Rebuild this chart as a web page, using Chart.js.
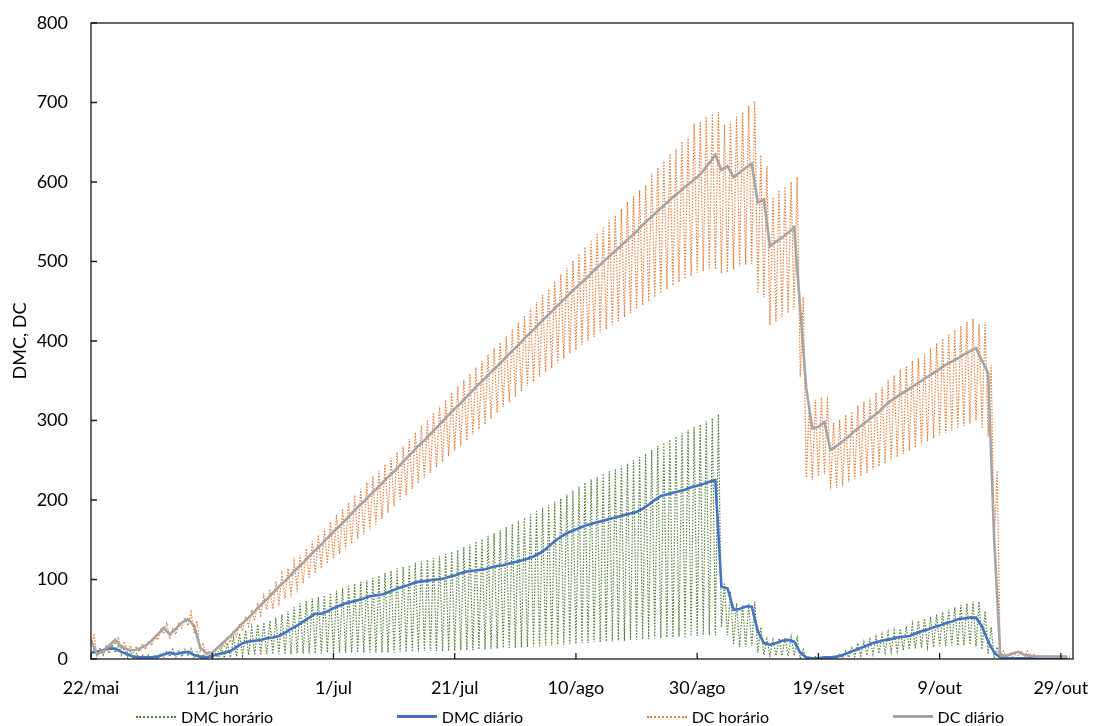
<!DOCTYPE html>
<html lang="pt">
<head>
    <meta charset="UTF-8">
    <title>DMC e DC</title>
    <style>
        body {
            margin: 0;
            background: #fff;
            font-family: Lato, 'Liberation Sans', sans-serif;
        }
        .wrap {
            position: relative;
            width: 1094px;
            height: 726px;
        }
        .legenda {
            position: absolute;
            left: 136px;
            width: 868px;
            top: 707px;
            display: flex;
            justify-content: space-between;
            font-size: 16px;
            color: #000;
        }
        .item {
            display: flex;
            align-items: center;
        }
        .amostra {
            width: 40px;
            margin-right: 5px;
        }
    </style>
</head>
<body>
<div class="wrap">
    <canvas id="grafico" width="1094" height="726"></canvas>
    <div class="legenda" id="legenda"></div>
</div>
<script src="https://cdn.jsdelivr.net/npm/chart.js"></script>
<script>
    // dia 0 = 22/mai, um valor por dia
    const rotulos = ['22/mai', '11/jun', '1/jul', '21/jul', '10/ago', '30/ago', '19/set', '9/out', '29/out'];

    const dmcDiario = [
        8, 9, 11, 13, 13, 9, 6, 3, 2, 2,
        2, 3, 6, 8, 6, 8, 9, 5, 3, 2,
        4, 6, 8, 10, 15, 20, 22, 23, 24, 26,
        27, 29, 33, 38, 42, 47, 52, 57, 57, 60,
        64, 67, 70, 72, 74, 76, 79, 80, 81, 84,
        87, 90, 92, 95, 97, 98, 99, 100, 101, 103,
        105, 108, 110, 111, 112, 113, 115, 117, 118, 120,
        122, 124, 126, 129, 133, 138, 145, 151, 156, 160,
        163, 166, 169, 171, 173, 175, 177, 179, 181, 183,
        185, 189, 194, 200, 205, 207, 209, 211, 213, 216,
        218, 220, 223, 225, 91, 89, 62, 63, 66, 66,
        35, 20, 18, 20, 23, 24, 22, 8, 2, 1,
        1, 2, 2, 3, 5, 8, 11, 14, 17, 20,
        22, 24, 25, 27, 28, 29, 32, 35, 37, 40,
        42, 45, 47, 50, 51, 52, 52, 41, 22, 8,
        2, 1, 1, 1, 1, 1, 1, 1, 1, 1, 1, 1
    ];

    const dmcHorMax = [
        12, 14, 16, 18, 18, 14, 10, 7, 5, 5,
        5, 7, 10, 12, 10, 12, 13, 9, 6, 4,
        8, 14, 20, 27, 32, 36, 40, 43, 46, 48,
        52, 56, 60, 65, 70, 73, 76, 78, 80, 83,
        86, 89, 92, 95, 97, 99, 102, 105, 108, 111,
        114, 116, 118, 121, 123, 125, 127, 130, 132, 135,
        137, 141, 144, 148, 151, 155, 158, 162, 166, 170,
        174, 178, 182, 186, 190, 194, 198, 202, 207, 212,
        217, 222, 226, 229, 233, 236, 239, 243, 246, 250,
        254, 258, 263, 268, 272, 276, 280, 284, 288, 292,
        295, 299, 303, 308, 96, 85, 70, 68, 70, 72,
        40, 25, 24, 26, 27, 28, 27, 12, 3, 3,
        3, 3, 3, 6, 10, 14, 20, 22, 25, 28,
        31, 34, 36, 38, 41, 44, 48, 51, 53, 56,
        59, 62, 65, 68, 70, 72, 72, 60, 40, 15,
        3, 2, 2, 2, 2, 2, 2, 2, 2, 2, 2, 2
    ];

    const dmcHorMin = [
        4, 4, 5, 7, 8, 5, 2, 0, 0, 0,
        0, 0, 2, 3, 2, 3, 4, 2, 0, 0,
        0, 0, 1, 2, 3, 4, 5, 5, 5, 6,
        6, 6, 6, 6, 7, 7, 7, 7, 7, 8,
        8, 8, 8, 8, 8, 8, 8, 8, 8, 8,
        8, 9, 9, 9, 9, 10, 10, 10, 10, 10,
        10, 11, 11, 11, 12, 12, 13, 13, 14, 14,
        14, 15, 15, 16, 16, 17, 17, 18, 18, 19,
        19, 20, 20, 21, 21, 22, 22, 23, 23, 24,
        24, 25, 25, 26, 26, 27, 27, 28, 28, 29,
        29, 30, 30, 30, 40, 30, 18, 15, 15, 16,
        8, 5, 4, 4, 4, 4, 4, 1, 0, 0,
        0, 0, 0, 0, 1, 2, 3, 4, 5, 6,
        7, 8, 9, 10, 11, 12, 13, 14, 15, 15,
        16, 16, 17, 17, 17, 18, 16, 12, 6, 2,
        0, 0, 0, 0, 0, 0, 0, 0, 0, 0, 0, 0
    ];

    const dcDiario = [
        24, 6, 10, 17, 24, 16, 12, 11, 13, 17,
        23, 31, 39, 31, 38, 46, 50, 42, 15, 7,
        8, 15, 22, 29, 37, 45, 52, 60, 68, 75,
        83, 91, 98, 106, 114, 121, 129, 137, 144, 152,
        160, 167, 175, 183, 191, 198, 206, 213, 221, 229,
        236, 244, 252, 260, 268, 275, 283, 291, 299, 307,
        315, 322, 330, 338, 346, 353, 361, 368, 376, 384,
        391, 399, 407, 414, 422, 430, 437, 445, 452, 460,
        467, 474, 481, 489, 496, 503, 510, 517, 524, 531,
        538, 546, 553, 560, 567, 574, 581, 587, 594, 600,
        606, 614, 624, 634, 615, 620, 606, 612, 618, 623,
        574, 578, 519, 525, 530, 536, 543, 440, 340, 290,
        292, 298, 263, 268, 274, 280, 287, 293, 299, 305,
        311, 319, 325, 330, 335, 340, 345, 350, 355, 360,
        365, 370, 374, 378, 383, 387, 391, 375, 360, 150,
        5, 4, 7, 9, 5, 4, 3, 3, 3, 3, 3, 3
    ];

    const dcHorMax = [
        30, 12, 15, 22, 28, 22, 17, 16, 19, 23,
        29, 37, 45, 38, 45, 52, 59, 48, 20, 10,
        12, 20, 28, 36, 45, 54, 62, 71, 80, 88,
        98, 107, 114, 123, 131, 139, 148, 156, 164, 172,
        181, 189, 197, 206, 214, 222, 230, 237, 245, 253,
        260, 268, 277, 285, 293, 301, 310, 318, 326, 335,
        343, 351, 359, 367, 375, 383, 391, 398, 406, 415,
        423, 432, 441, 449, 458, 467, 475, 484, 492, 501,
        510, 518, 527, 536, 544, 552, 558, 566, 575, 582,
        590, 596, 611, 618, 628, 636, 642, 651, 657, 674,
        676, 682, 686, 688, 672, 676, 682, 688, 696, 702,
        634, 620, 581, 590, 594, 600, 606, 455, 322, 326,
        330, 330, 297, 301, 307, 311, 319, 324, 328, 335,
        342, 351, 357, 364, 369, 375, 378, 383, 391, 397,
        403, 408, 414, 419, 424, 428, 421, 424, 370, 237,
        10, 5, 6, 9, 10, 6, 5, 4, 4, 4, 4, 4
    ];

    const dcHorMin = [
        18, 4, 6, 12, 18, 12, 9, 8, 9, 12,
        17, 24, 32, 25, 31, 39, 42, 32, 10, 5,
        4, 9, 15, 21, 28, 35, 41, 48, 55, 62,
        63, 70, 76, 82, 89, 95, 101, 108, 114, 120,
        126, 132, 138, 145, 151, 157, 163, 169, 176, 184,
        192, 199, 206, 214, 221, 228, 234, 241, 248, 255,
        262, 268, 275, 282, 289, 295, 302, 310, 317, 323,
        330, 337, 343, 349, 355, 361, 366, 372, 378, 384,
        389, 395, 400, 405, 410, 415, 420, 425, 430, 435,
        440, 445, 450, 455, 460, 465, 470, 474, 478, 482,
        486, 488, 490, 490, 485, 486, 490, 494, 496, 497,
        460, 455, 420, 425, 430, 435, 439, 355, 228, 225,
        230, 232, 213, 215, 218, 222, 226, 230, 234, 238,
        242, 246, 250, 254, 258, 262, 266, 270, 274, 278,
        281, 284, 287, 290, 293, 296, 300, 290, 280, 150,
        2, 2, 3, 4, 3, 2, 2, 2, 2, 2, 2, 2
    ];

    function serieDiaria(vals) {
        return vals.map((v, d) => ({ x: d, y: v }));
    }

    function serieHoraria(min, max) {
        const pts = [];
        min.forEach((v, d) => {
            pts.push({ x: d, y: v });
            pts.push({ x: d + 0.5, y: max[d] });
        });
        return pts;
    }

    // moldura do gráfico e marcas de escala para dentro
    const moldura = {
        id: 'moldura',
        afterDatasetsDraw(chart) {
            const { ctx, chartArea: a, scales: { x, y } } = chart;
            ctx.save();
            ctx.strokeStyle = '#1a1a1a';
            ctx.lineWidth = 1.3;
            ctx.strokeRect(a.left, a.top, a.right - a.left, a.bottom - a.top);
            ctx.beginPath();
            x.ticks.forEach(t => {
                const px = x.getPixelForValue(t.value);
                ctx.moveTo(px, a.bottom);
                ctx.lineTo(px, a.bottom - 6);
            });
            y.ticks.forEach(t => {
                const py = y.getPixelForValue(t.value);
                ctx.moveTo(a.left, py);
                ctx.lineTo(a.left + 6, py);
            });
            ctx.stroke();
            ctx.restore();
        }
    };

    Chart.defaults.font.family = 'Lato, "Liberation Sans", sans-serif';
    Chart.defaults.color = '#000';

    const series = [
        { label: 'DMC horário', data: serieHoraria(dmcHorMin, dmcHorMax), borderColor: '#548235', borderWidth: 1.2, borderDash: [1.5, 1.5], order: 4, dotted: true },
        { label: 'DMC diário', data: serieDiaria(dmcDiario), borderColor: '#4472C4', borderWidth: 2.6, order: 3 },
        { label: 'DC horário', data: serieHoraria(dcHorMin, dcHorMax), borderColor: '#ED7D31', borderWidth: 1.2, borderDash: [1.5, 1.5], order: 2, dotted: true },
        { label: 'DC diário', data: serieDiaria(dcDiario), borderColor: '#A5A5A5', borderWidth: 2.6, order: 1 }
    ];

    const chart = new Chart(document.getElementById('grafico'), {
        type: 'line',
        data: {
            datasets: series.map(s => ({
                label: s.label,
                data: s.data,
                borderColor: s.borderColor,
                backgroundColor: s.borderColor,
                borderWidth: s.borderWidth,
                borderDash: s.borderDash || [],
                order: s.order,
                pointRadius: 0,
                tension: 0,
                fill: false
            }))
        },
        options: {
            responsive: false,
            animation: false,
            devicePixelRatio: 1,
            layout: { padding: { top: 23, right: 21, bottom: 27, left: 0 } },
            plugins: {
                legend: { display: false },
                tooltip: { enabled: false }
            },
            scales: {
                x: {
                    type: 'linear',
                    min: 0,
                    max: 162,
                    grid: { display: false, drawTicks: false },
                    border: { display: false },
                    ticks: {
                        stepSize: 20,
                        includeBounds: false,
                        maxRotation: 0,
                        autoSkip: false,
                        padding: 18,
                        font: { size: 18 },
                        callback: v => rotulos[v / 20] ?? ''
                    },
                    afterFit: s => {
                        s.height = 40;
                        s.paddingLeft = 0;
                        s.paddingRight = 0;
                    }
                },
                y: {
                    min: 0,
                    max: 800,
                    grid: { display: false, drawTicks: false },
                    border: { display: false },
                    ticks: {
                        stepSize: 100,
                        padding: 23,
                        font: { size: 18 }
                    },
                    title: {
                        display: true,
                        text: 'DMC, DC',
                        font: { size: 18 },
                        padding: { top: 9, bottom: 0 }
                    },
                    afterFit: s => {
                        s.width = 91;
                        s.paddingTop = 0;
                        s.paddingBottom = 0;
                    }
                }
            }
        },
        plugins: [moldura]
    });

    // legenda em HTML, feita a partir das séries
    const legenda = document.getElementById('legenda');
    series.forEach(s => {
        const item = document.createElement('div');
        item.className = 'item';
        const amostra = document.createElement('span');
        amostra.className = 'amostra';
        amostra.style.borderTop = s.dotted
            ? `2px dotted ${s.borderColor}`
            : `3px solid ${s.borderColor}`;
        const texto = document.createElement('span');
        texto.textContent = s.label;
        item.appendChild(amostra);
        item.appendChild(texto);
        legenda.appendChild(item);
    });
</script>
</body>
</html>
